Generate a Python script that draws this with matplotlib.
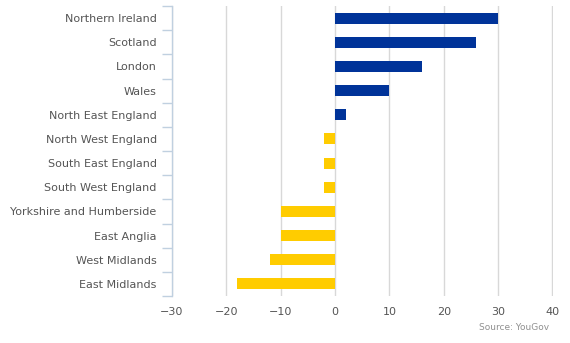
import matplotlib.pyplot as plt
import numpy as np

# Regionen und Werte (von oben nach unten)
regions = ['Northern Ireland', 'Scotland', 'London', 'Wales', 'North East England',
           'North West England', 'South East England', 'South West England',
           'Yorkshire and Humberside', 'East Anglia', 'West Midlands', 'East Midlands']
values = [30, 26, 16, 10, 2, -2, -2, -2, -10, -10, -12, -18]
x_ticks = [-30, -20, -10, 0, 10, 20, 30, 40]

fig = plt.figure(figsize=(5.7, 3.43), dpi=100)
ax = fig.add_axes([172 / 570, 1 - 296 / 343, (553 - 172) / 570, (296 - 6) / 343])

y = np.arange(len(regions))
colors = ['#003399' if v > 0 else '#FFCC00' for v in values]
ax.barh(y, values, height=0.46, color=colors, zorder=3)

ax.set_xlim(-30, 40.1)
ax.set_ylim(len(regions) - 0.5, -0.5)
ax.set_xticks(x_ticks)
ax.set_xticklabels([str(t).replace('-', '\u2212') for t in x_ticks])
ax.set_yticks(y)
ax.set_yticklabels(regions)
ax.set_yticks(np.arange(len(regions) + 1) - 0.5, minor=True)

ax.grid(axis='x', color='#d8d8d8', linewidth=1, zorder=0)
ax.set_axisbelow(True)

for s in ['top', 'right', 'bottom']:
    ax.spines[s].set_visible(False)
ax.spines['left'].set_color('#C0D0E0')
ax.spines['left'].set_linewidth(1)

ax.tick_params(axis='y', which='major', length=0, pad=11, labelsize=8, labelcolor='#555555')
ax.tick_params(axis='y', which='minor', length=7, width=1, color='#C0D0E0')
ax.tick_params(axis='x', length=0, pad=8, labelsize=8, labelcolor='#555555')

fig.text(549 / 570, 1 - 327 / 343, 'Source: YouGov', ha='right', va='center',
         fontsize=6.5, color='#909090')

fig.savefig('out.png', dpi=100)
